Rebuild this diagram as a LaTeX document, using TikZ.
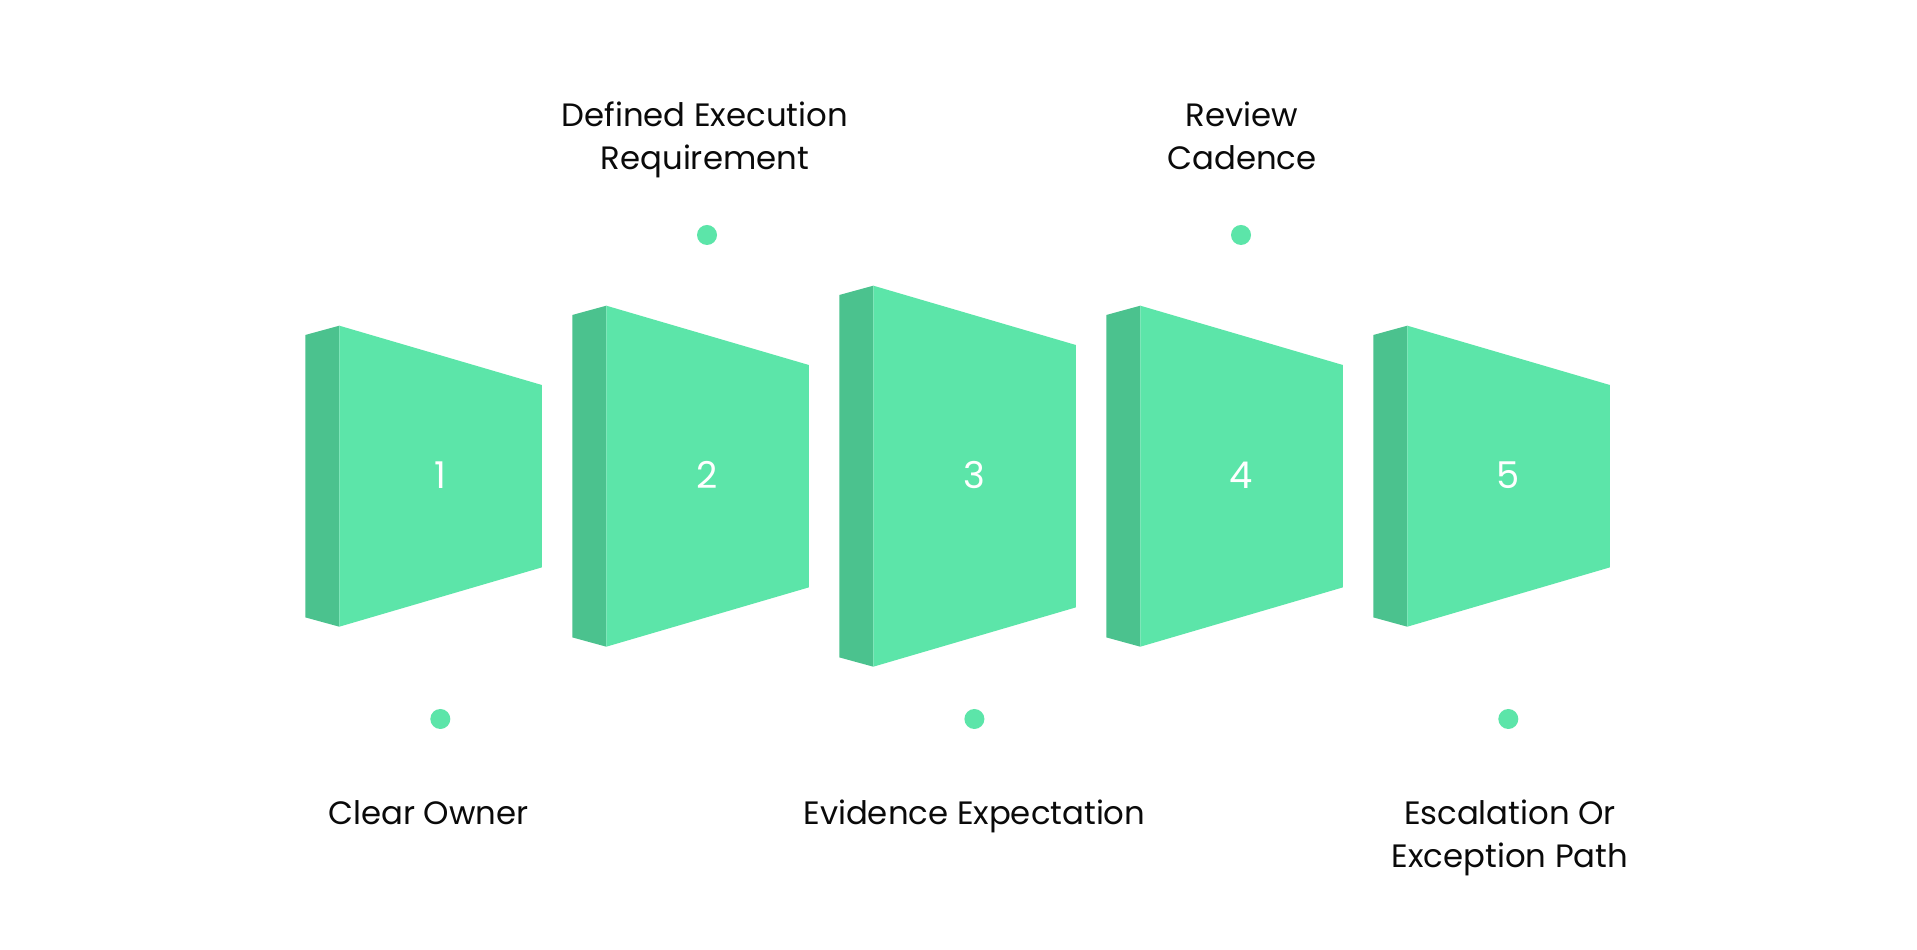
\documentclass[tikz,border=0pt]{standalone}
\usepackage{fontspec}
\setmainfont{Poppins}
\definecolor{facegreen}{RGB}{92,229,169}
\definecolor{sidegreen}{RGB}{75,194,142}
\definecolor{ink}{RGB}{10,10,10}

\begin{document}
\begin{tikzpicture}[
  x=1cm,y=1cm,
  face/.style={fill=facegreen},
  side/.style={fill=sidegreen},
  stepnum/.style={font=\fontsize{10.5}{12}\selectfont, text=white,
                  inner sep=0pt},
  marker/.style={circle, fill=facegreen, minimum size=0.2cm, inner sep=0pt},
  caption/.style={font=\fontsize{9.2}{12.5}\selectfont, text=ink,
                  align=center, inner sep=0pt}
]

\useasboundingbox (0,0) rectangle (19.17,9.5);
\fill[white] (0,0) rectangle (19.17,9.5);

% Five slabs, the middle one tallest; each has a thin side and a tapered face.
\fill[side] (3.053,6.150) -- (3.393,6.243) -- (3.393,3.233) -- (3.053,3.326) -- cycle;
\fill[face] (3.393,6.243) -- (5.418,5.650) -- (5.418,3.826) -- (3.393,3.233) -- cycle;

\fill[side] (5.723,6.350) -- (6.063,6.443) -- (6.063,3.033) -- (5.723,3.126) -- cycle;
\fill[face] (6.063,6.443) -- (8.088,5.850) -- (8.088,3.626) -- (6.063,3.033) -- cycle;

\fill[side] (8.393,6.550) -- (8.733,6.643) -- (8.733,2.833) -- (8.393,2.926) -- cycle;
\fill[face] (8.733,6.643) -- (10.758,6.050) -- (10.758,3.426) -- (8.733,2.833) -- cycle;

\fill[side] (11.063,6.350) -- (11.403,6.443) -- (11.403,3.033) -- (11.063,3.126) -- cycle;
\fill[face] (11.403,6.443) -- (13.428,5.850) -- (13.428,3.626) -- (11.403,3.033) -- cycle;

\fill[side] (13.733,6.150) -- (14.073,6.243) -- (14.073,3.233) -- (13.733,3.326) -- cycle;
\fill[face] (14.073,6.243) -- (16.098,5.650) -- (16.098,3.826) -- (14.073,3.233) -- cycle;

% Step numbers on the faces.
\node[stepnum] (num1) at (4.405,4.75) {1};
\node[stepnum] (num2) at (7.075,4.75) {2};
\node[stepnum] (num3) at (9.745,4.75) {3};
\node[stepnum] (num4) at (12.415,4.75) {4};
\node[stepnum] (num5) at (15.085,4.75) {5};

% Markers alternate below and above.
\node[marker] (dot1) at (4.403,2.31) {};
\node[marker] (dot2) at (7.070,7.15) {};
\node[marker] (dot3) at (9.744,2.31) {};
\node[marker] (dot4) at (12.410,7.15) {};
\node[marker] (dot5) at (15.083,2.31) {};

% Captions (base sits on the last line).
\node[caption, anchor=base] (label1) at (4.284,1.25) {Clear Owner};
\node[caption, anchor=base] (label2) at (7.048,7.80)
  {Defined Execution\\Requirement};
\node[caption, anchor=base] (label3) at (9.744,1.25) {Evidence Expectation};
\node[caption, anchor=base] (label4) at (12.420,7.80) {Review\\Cadence};
\node[caption, anchor=base] (label5) at (15.100,0.82)
  {Escalation Or\\Exception Path};

\end{tikzpicture}
\end{document}
